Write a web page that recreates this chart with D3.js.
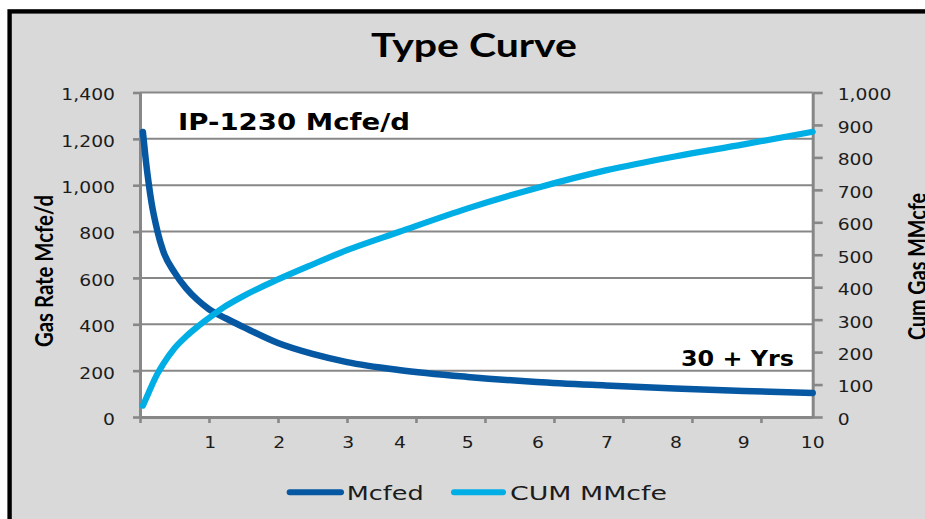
<!DOCTYPE html>
<html>
<head>
<meta charset="utf-8">
<script src="https://cdn.jsdelivr.net/npm/d3@7"></script>
<style>
  html, body { margin: 0; padding: 0; background: #ffffff; overflow: hidden; }
  svg { display: block; }
</style>
</head>
<body>
<script>
// Production month (category index) at which each sample is taken
const months = [0.5, 1, 1.5, 2, 3, 4, 6, 8, 10, 12, 15, 18, 24, 30, 36, 45, 57, 69, 81, 93, 105, 117];
// Gas rate, Mcfe/d (primary axis)
const mcfed = [1230, 1110, 1010, 925, 805, 718, 624, 556, 505, 465, 425, 388, 319, 272, 237, 203, 173, 151, 136, 123, 112, 104];
// Cumulative gas, MMcfe (secondary axis)
const cumMMcfe = [35, 55, 75, 95, 132, 162, 212, 248, 278, 305, 343, 373, 424, 470, 514, 570, 643, 706, 760, 803, 840, 879];

const rateTicks = [0, 200, 400, 600, 800, 1000, 1200, 1400];
const cumTicks = [0, 100, 200, 300, 400, 500, 600, 700, 800, 900, 1000];
const xTickMonths = [0, 12, 24, 36, 48, 60, 72, 84, 96, 108];
const yearLabels = ["1", "2", "3", "4", "5", "6", "7", "8", "9", "10"];
const yearLabelMonths = [12.2, 24.2, 36.2, 45.2, 57, 69.2, 81.2, 93.2, 105, 117];

const seriesNames = ["Mcfed", "CUM MMcfe"];
const seriesColors = ["#0658a3", "#00aee6"];

const W = 925, H = 519;
const plot = { left: 140, right: 812.7, top: 92.5, bottom: 417 };
const axisGrey = "#878787";
const textColor = "#1c1c1c";

const svg = d3.select("body").append("svg")
  .attr("width", W).attr("height", H);

// chart area with heavy black frame
svg.append("rect")
  .attr("x", 9.6).attr("y", 11.4)
  .attr("width", 1000).attr("height", 600)
  .attr("fill", "#d9d9d9")
  .attr("stroke", "#000").attr("stroke-width", 4.4);

// plot area
svg.append("rect")
  .attr("x", plot.left).attr("y", plot.top)
  .attr("width", plot.right - plot.left).attr("height", plot.bottom - plot.top)
  .attr("fill", "#ffffff");

const x = d3.scaleLinear().domain([0, 117]).range([plot.left, plot.right]);
const yL = d3.scaleLinear().domain([0, 1400]).range([plot.bottom, plot.top]);
const yR = d3.scaleLinear().domain([0, 1000]).range([plot.bottom, plot.top]);

// horizontal gridlines
svg.append("g")
  .selectAll("line")
  .data(rateTicks.slice(1))
  .join("line")
  .attr("x1", plot.left).attr("x2", plot.right)
  .attr("y1", d => yL(d)).attr("y2", d => yL(d))
  .attr("stroke", axisGrey).attr("stroke-width", 2);

function styleAxis(g) {
  g.select(".domain").attr("stroke", axisGrey).attr("stroke-width", 3);
  g.selectAll(".tick line").attr("stroke", axisGrey).attr("stroke-width", 2.6);
}

const tickFont = "'DejaVu Sans', Verdana, sans-serif";

// left (rate) axis
const gL = svg.append("g")
  .attr("transform", `translate(${plot.left},0)`)
  .call(d3.axisLeft(yL).tickValues(rateTicks).tickSize(7).tickSizeOuter(0)
    .tickFormat(d3.format(",")));
styleAxis(gL);
gL.selectAll(".tick text")
  .attr("x", null).attr("dy", null)
  .attr("dominant-baseline", "middle")
  .attr("transform", "translate(-25,3) scale(1.25,1)")
  .attr("text-anchor", "end")
  .style("font-family", tickFont).style("font-size", "15px").attr("fill", textColor);

// right (cumulative) axis
const gR = svg.append("g")
  .attr("transform", `translate(${plot.right},0)`)
  .call(d3.axisRight(yR).tickValues(cumTicks).tickSize(10).tickSizeOuter(0)
    .tickFormat(d3.format(",")));
styleAxis(gR);
gR.selectAll(".tick text")
  .attr("x", null).attr("dy", null)
  .attr("dominant-baseline", "middle")
  .attr("transform", "translate(25,3) scale(1.25,1)")
  .attr("text-anchor", "start")
  .style("font-family", tickFont).style("font-size", "15px").attr("fill", textColor);

// bottom axis: tick marks every 12 months, year labels placed separately
const gB = svg.append("g")
  .attr("transform", `translate(0,${plot.bottom})`)
  .call(d3.axisBottom(x).tickValues(xTickMonths).tickSize(6).tickSizeOuter(0).tickFormat(""));
styleAxis(gB);

svg.append("g")
  .selectAll("text")
  .data(yearLabels)
  .join("text")
  .attr("transform", (d, i) => `translate(${x(yearLabelMonths[i])},448) scale(1.25,1)`)
  .attr("text-anchor", "middle")
  .style("font-family", tickFont).style("font-size", "15px").attr("fill", textColor)
  .text(d => d);

// series
const rateLine = d3.line()
  .x((d, i) => x(months[i]))
  .y(d => yL(d))
  .curve(d3.curveMonotoneX);
const cumLine = d3.line()
  .x((d, i) => x(months[i]))
  .y(d => yR(d))
  .curve(d3.curveMonotoneX);

svg.append("path")
  .datum(mcfed)
  .attr("d", rateLine)
  .attr("fill", "none")
  .attr("stroke", seriesColors[0]).attr("stroke-width", 6.5)
  .attr("stroke-linecap", "round").attr("stroke-linejoin", "round");

svg.append("path")
  .datum(cumMMcfe)
  .attr("d", cumLine)
  .attr("fill", "none")
  .attr("stroke", seriesColors[1]).attr("stroke-width", 6.2)
  .attr("stroke-linecap", "round").attr("stroke-linejoin", "round");

// title
svg.append("text")
  .attr("x", 474).attr("y", 57)
  .attr("text-anchor", "middle")
  .attr("textLength", 206).attr("lengthAdjust", "spacingAndGlyphs")
  .style("font-family", "Lato, 'Open Sans', sans-serif")
  .style("font-weight", "bold").style("font-size", "33px")
  .attr("fill", "#000")
  .text("Type Curve");

// axis titles
function axisTitle(tx, ty, len, label) {
  svg.append("g")
    .attr("transform", `translate(${tx},${ty}) rotate(-90)`)
    .append("text")
    .attr("transform", "scale(1,1.3)")
    .attr("text-anchor", "middle")
    .attr("textLength", len).attr("lengthAdjust", "spacingAndGlyphs")
    .style("font-family", "Lato, 'Open Sans', sans-serif")
    .style("font-weight", "bold").style("font-size", "19.5px")
    .attr("fill", "#000")
    .text(label);
}
axisTitle(53, 271, 152, "Gas Rate Mcfe/d");
axisTitle(926, 266.5, 147, "Cum Gas MMcfe");

// annotations
svg.append("text")
  .attr("x", 178).attr("y", 130)
  .attr("textLength", 232).attr("lengthAdjust", "spacingAndGlyphs")
  .style("font-family", "'DejaVu Sans', Verdana, sans-serif")
  .style("font-weight", "bold").style("font-size", "23px")
  .attr("fill", "#000")
  .text("IP-1230 Mcfe/d");

svg.append("text")
  .attr("x", 681).attr("y", 366)
  .attr("textLength", 113).attr("lengthAdjust", "spacingAndGlyphs")
  .style("font-family", "'DejaVu Sans', Verdana, sans-serif")
  .style("font-weight", "bold").style("font-size", "21px")
  .attr("fill", "#000")
  .text("30 + Yrs");

// legend
const legend = [
  { x1: 289.7, x2: 341, tx: 346.7, tw: 77 },
  { x1: 454, x2: 503, tx: 510, tw: 157 }
];
const lg = svg.append("g");
legend.forEach((d, i) => {
  lg.append("line")
    .attr("x1", d.x1).attr("x2", d.x2).attr("y1", 492.3).attr("y2", 492.3)
    .attr("stroke", seriesColors[i]).attr("stroke-width", 6)
    .attr("stroke-linecap", "round");
  lg.append("text")
    .attr("x", d.tx).attr("y", 500)
    .attr("textLength", d.tw).attr("lengthAdjust", "spacingAndGlyphs")
    .style("font-family", tickFont).style("font-size", "19px")
    .attr("fill", textColor)
    .text(seriesNames[i]);
});
</script>
</body>
</html>
